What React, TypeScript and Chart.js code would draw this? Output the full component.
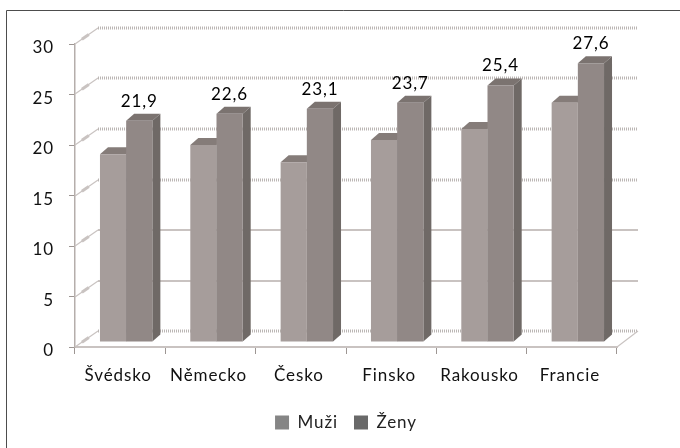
import React, { useEffect, useRef } from "react";
import { Chart, registerables } from "chart.js";

Chart.register(...registerables);

const categories = ["Švédsko", "Německo", "Česko", "Finsko", "Rakousko", "Francie"];
const muzi = [18.6, 19.5, 17.8, 20.0, 21.1, 23.7];
const zeny = [21.9, 22.6, 23.1, 23.7, 25.4, 27.6];
const seriesNames = ["Muži", "Ženy"];
const frontColors = ["#a69d9b", "#918886"];
const topColors = ["#857c79", "#7b7370"];
const legendColors = ["#858585", "#696969"];
const sideColor = "#6f6966";
const yTicks = [0, 5, 10, 15, 20, 25, 30];
const dottedTicks = [0, 15, 20, 25, 30];

const FONT = "Lato, 'Open Sans', sans-serif";
const WALL_DX = 23;
const WALL_DY = 16;
const BAR_DX = 6;
const BAR_DY = 5;
const DEPTH_DX = 8;
const DEPTH_DY = 7;

const spacing = (c: CanvasRenderingContext2D) => {
  (c as any).letterSpacing = "0.9px";
};

const pseudo3d = {
  id: "pseudo3d",
  beforeUpdate(chart: any) {
    spacing(chart.ctx);
  },
  beforeDraw(chart: any) {
    const c = chart.ctx;
    spacing(c);
    c.save();
    c.strokeStyle = "#4d4d4d";
    c.lineWidth = 1;
    c.beginPath();
    c.moveTo(6.5, 448);
    c.lineTo(6.5, 10.5);
    c.lineTo(680, 10.5);
    c.stroke();
    c.restore();
  },
  beforeDatasetsDraw(chart: any) {
    const c = chart.ctx;
    const { left, right } = chart.chartArea;
    const y = chart.scales.y;
    c.save();
    yTicks.forEach((t) => {
      const py = Math.round(y.getPixelForValue(t));
      const dotted = dottedTicks.includes(t);
      c.strokeStyle = dotted ? "#bbb6b4" : "#c9c3c1";
      c.lineWidth = dotted ? 3 : 2;
      c.setLineDash(dotted ? [1, 1] : []);
      c.beginPath();
      c.moveTo(left + WALL_DX, py - WALL_DY);
      c.lineTo(right + WALL_DX - 2, py - WALL_DY);
      c.stroke();
      c.setLineDash([]);
      c.strokeStyle = "#c9c3c1";
      c.lineWidth = 1.2;
      c.beginPath();
      c.moveTo(left, py);
      c.lineTo(left + WALL_DX, py - WALL_DY);
      c.stroke();
      c.lineWidth = 3;
      c.beginPath();
      c.moveTo(left + WALL_DX * 0.3, py - WALL_DY * 0.3);
      c.lineTo(left + WALL_DX * 0.6, py - WALL_DY * 0.6);
      c.stroke();
    });
    const py0 = Math.round(y.getPixelForValue(0));
    c.strokeStyle = "#c9c3c1";
    c.lineWidth = 1.2;
    c.beginPath();
    c.moveTo(right, py0);
    c.lineTo(right + WALL_DX - 2, py0 - WALL_DY);
    c.stroke();
    c.restore();

    c.save();
    c.translate(BAR_DX, -BAR_DY);
    chart.getSortedVisibleDatasetMetas().forEach((meta: any) => {
      meta.data.forEach((bar: any) => {
        const half = bar.width / 2;
        const x0 = bar.x - half;
        const x1 = bar.x + half;
        c.fillStyle = topColors[meta.index];
        c.beginPath();
        c.moveTo(x0, bar.y);
        c.lineTo(x0 + DEPTH_DX, bar.y - DEPTH_DY);
        c.lineTo(x1 + DEPTH_DX, bar.y - DEPTH_DY);
        c.lineTo(x1, bar.y);
        c.closePath();
        c.fill();
        c.fillStyle = sideColor;
        c.beginPath();
        c.moveTo(x1, bar.y);
        c.lineTo(x1 + DEPTH_DX, bar.y - DEPTH_DY);
        c.lineTo(x1 + DEPTH_DX, bar.base - DEPTH_DY);
        c.lineTo(x1, bar.base);
        c.closePath();
        c.fill();
      });
    });
    c.restore();
    c.save();
    c.translate(BAR_DX, -BAR_DY);
  },
  afterDatasetsDraw(chart: any) {
    const c = chart.ctx;
    c.restore();
    const meta = chart.getDatasetMeta(1);
    c.save();
    c.fillStyle = "#000000";
    c.font = `17px ${FONT}`;
    c.textAlign = "center";
    c.textBaseline = "middle";
    meta.data.forEach((bar: any, i: number) => {
      const label = zeny[i].toFixed(1).replace(".", ",");
      c.fillText(label, bar.x + BAR_DX, bar.y - BAR_DY - 19.5);
    });
    c.restore();
  },
};

export default function App() {
  const ref = useRef<HTMLCanvasElement>(null);
  useEffect(() => {
    const chart = new Chart(ref.current as HTMLCanvasElement, {
      type: "bar",
      data: {
        labels: categories,
        datasets: [
          { label: seriesNames[0], data: muzi, backgroundColor: frontColors[0] },
          { label: seriesNames[1], data: zeny, backgroundColor: frontColors[1] },
        ],
      },
      plugins: [pseudo3d],
      options: {
        responsive: false,
        animation: false,
        layout: { padding: { top: 44, right: 63, bottom: 7, left: 0 } },
        datasets: { bar: { categoryPercentage: 0.58, barPercentage: 1 } },
        plugins: {
          tooltip: { enabled: false },
          legend: {
            position: "bottom",
            fullSize: false,
            labels: {
              boxWidth: 14,
              boxHeight: 14,
              padding: 16,
              color: "#222222",
              font: { family: FONT, size: 17 },
              generateLabels: () =>
                seriesNames.map((text, i) => ({
                  text,
                  fillStyle: legendColors[i],
                  strokeStyle: legendColors[i],
                  lineWidth: 0,
                  datasetIndex: i,
                  fontColor: "#222222",
                })),
            },
          },
        },
        scales: {
          x: {
            afterFit: (s: any) => {
              s.height = 51;
            },
            border: { color: "#c9c3c1", width: 2 },
            grid: { drawOnChartArea: false, color: "#9d9693", tickLength: 7, offset: true },
            ticks: {
              color: "#111111",
              padding: 11,
              labelOffset: -2,
              maxRotation: 0,
              autoSkip: false,
              font: { family: FONT, size: 17 },
            },
          },
          y: {
            min: 0,
            max: 30,
            afterFit: (s: any) => {
              s.width = 75;
            },
            border: { color: "#b5aeab", width: 1.5 },
            grid: { drawOnChartArea: false, color: "#9d9693", tickLength: 6 },
            ticks: {
              stepSize: 5,
              color: "#111111",
              padding: 15,
              labelOffset: 4,
              font: { family: FONT, size: 17 },
            },
          },
        },
      },
    } as any);
    return () => chart.destroy();
  }, []);
  return (
    <div style={{ position: "absolute", left: 0, top: 0, width: 680, height: 448, background: "#ffffff" }}>
      <canvas ref={ref} width={680} height={448} style={{ display: "block" }} />
    </div>
  );
}
